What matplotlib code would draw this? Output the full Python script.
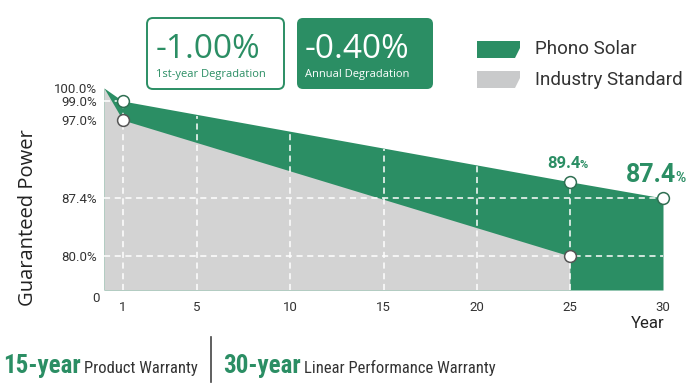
import numpy as np
import matplotlib
matplotlib.use('Agg')
import matplotlib.pyplot as plt
from matplotlib import font_manager
from matplotlib.patches import FancyBboxPatch, Polygon
from matplotlib.transforms import IdentityTransform

# ---------------- data ----------------
phono_years = [0, 1, 25, 30]
phono_power = [100.0, 99.0, 89.4, 87.4]
industry_years = [0, 1, 25]
industry_power = [100.0, 97.0, 80.0]
phono_marker_years = [1, 25, 30]
phono_marker_power = [99.0, 89.4, 87.4]
industry_marker_years = [1, 25]
industry_marker_power = [97.0, 80.0]
x_ticks = [1, 5, 10, 15, 20, 25, 30]
y_ticks = [80.0, 87.4, 97.0, 99.0, 100.0]
y_ticklabels = ['80.0%', '87.4%', '97.0%', '99.0%', '100.0%']
h_grid_levels = [99.0, 87.4, 80.0]
first_year_text = '-1.00%'
annual_text = '-0.40%'

# ---------------- style ----------------
GREEN = '#2b8e64'
GRAY = '#d3d3d3'
LEG_GRAY = '#c9cacb'
DARK = '#333333'
Y_MIN = 76.0

names = {f.name for f in font_manager.fontManager.ttflist}
COND = next((n for n in ['Roboto Condensed', 'Liberation Sans Narrow',
                         'Open Sans Condensed', 'DejaVu Sans Condensed']
             if n in names), 'Roboto')
DIN = 'Roboto'
SEGOE = 'Open Sans'

# piecewise-linear value axis (designer's uneven spacing)
SV = np.array([Y_MIN, 80.0, 87.4, 97.0, 99.0, 100.0])
SP = np.array([0.0, 34.0, 92.0, 170.0, 189.0, 202.0])


def _interp_ext(v, xs, ys):
    v = np.asarray(v, dtype=float)
    out = np.interp(v, xs, ys)
    s0 = (ys[1] - ys[0]) / (xs[1] - xs[0])
    s1 = (ys[-1] - ys[-2]) / (xs[-1] - xs[-2])
    out = np.where(v < xs[0], ys[0] + (v - xs[0]) * s0, out)
    out = np.where(v > xs[-1], ys[-1] + (v - xs[-1]) * s1, out)
    return out


def fwd(v):
    return _interp_ext(v, SV, SP)


def inv(p):
    return _interp_ext(p, SP, SV)


W, H = 697, 390
fig = plt.figure(figsize=(W / 100, H / 100), dpi=100)
fig.patch.set_facecolor('white')

ax = fig.add_axes([104 / W, 100 / H, (663 - 104) / W, 202 / H])
ax.set_yscale('function', functions=(fwd, inv))
ax.set_xlim(0, 30)
ax.set_ylim(Y_MIN, 100)

ax.fill_between(phono_years, phono_power, Y_MIN, color=GREEN, lw=0, zorder=1)
ax.fill_between(industry_years, industry_power, Y_MIN, color=GRAY, lw=0, zorder=2)

gkw = dict(color='white', lw=1.1, linestyles=(0, (4, 3)), zorder=3)
for x in x_ticks[:-1]:
    top = np.interp(x, phono_years, phono_power)
    ax.vlines(x, Y_MIN, top, **gkw)
ax.hlines(h_grid_levels[0], 0, 1, **gkw)
for lv in h_grid_levels[1:]:
    ax.hlines(lv, 0, 30, **gkw)

ax.plot(phono_marker_years, phono_marker_power, 'o', ms=8.5, mfc='white',
        mec='#2f6f52', mew=1.1, zorder=6, clip_on=False)
ax.plot(industry_marker_years, industry_marker_power, 'o', ms=8.5, mfc='white',
        mec='#555555', mew=1.1, zorder=6, clip_on=False)

ax.set_xticks(x_ticks)
ax.set_xticklabels([str(t) for t in x_ticks], fontfamily=DIN)
ax.set_yticks(y_ticks)
ax.set_yticklabels(y_ticklabels, fontfamily=DIN)
ax.yaxis.set_minor_locator(matplotlib.ticker.NullLocator())
ax.tick_params(axis='both', length=0, labelsize=9.5, colors=DARK)
ax.tick_params(axis='x', pad=8)
ax.tick_params(axis='y', pad=5)
for s in ax.spines.values():
    s.set_visible(False)

ax.annotate('0', xy=(0, Y_MIN), xycoords=('axes fraction', 'data'),
            xytext=(-3, -6), textcoords='offset points', ha='right', va='center',
            fontsize=9.5, color=DARK, fontfamily=DIN)

# labels
fig.text(28 / W, 1 - 218 / H, 'Guaranteed Power', rotation=90, ha='center',
         va='center', fontsize=14.5, color='#222222', fontfamily=SEGOE)
fig.text(648 / W, 1 - 323 / H, 'Year', ha='center', va='center', fontsize=12,
         color='#222222', fontfamily=DIN)

# ---------- boxes ----------
ID = IdentityTransform()
b1 = FancyBboxPatch((147, H - 89), 137, 71, boxstyle='round,pad=0,rounding_size=6',
                    transform=ID, facecolor='white', edgecolor=GREEN, lw=1.4)
b2 = FancyBboxPatch((297, H - 89), 136, 71, boxstyle='round,pad=0,rounding_size=6',
                    transform=ID, facecolor=GREEN, edgecolor='none', lw=0)
fig.add_artist(b1)
fig.add_artist(b2)
fig.text(156 / W, (H - 58) / H, first_year_text, ha='left', va='baseline',
         fontsize=24, color=GREEN, fontfamily=SEGOE)
fig.text(156 / W, (H - 77) / H, '1st-year Degradation', ha='left', va='baseline',
         fontsize=8, color=GREEN, fontfamily=SEGOE)
fig.text(305 / W, (H - 58) / H, annual_text, ha='left', va='baseline',
         fontsize=24, color='white', fontfamily=SEGOE)
fig.text(305 / W, (H - 77) / H, 'Annual Degradation', ha='left', va='baseline',
         fontsize=8, color='white', fontfamily=SEGOE)

# ---------- legend ----------
def leg_patch(ytop, color):
    pts = [(477, ytop), (520, ytop), (520, ytop + 7), (515, ytop + 17), (477, ytop + 17)]
    return Polygon([(x, H - y) for x, y in pts], closed=True, transform=ID,
                   facecolor=color, edgecolor='none')

fig.add_artist(leg_patch(41, GREEN))
fig.add_artist(leg_patch(71, LEG_GRAY))
fig.text(535 / W, 1 - 49 / H, 'Phono Solar', ha='left', va='center', fontsize=13.5,
         color=DARK, fontfamily=DIN)
fig.text(535 / W, 1 - 80 / H, 'Industry Standard', ha='left', va='center',
         fontsize=13.5, color=DARK, fontfamily=DIN)

# ---------- value callouts ----------
fig.canvas.draw()
renderer = fig.canvas.get_renderer()

callouts = []
for idx, size, pct_size, dx, dy in [(1, 12, 8, 11, 14), (2, 18, 10, 13, 16)]:
    x = phono_marker_years[idx]
    y = phono_marker_power[idx]
    t = ax.annotate(f'{y:.1f}', xy=(x, y), xytext=(dx * 0.72, dy * 0.72),
                    textcoords='offset points', ha='right', va='baseline',
                    fontsize=size, fontweight='bold', color=GREEN,
                    fontfamily=DIN, annotation_clip=False)
    callouts.append((t, idx, pct_size, dy))

fig.canvas.draw()
for t, idx, ps, dy in callouts:
    bb = t.get_window_extent(renderer)
    px, py = ax.transData.transform((phono_marker_years[idx], phono_marker_power[idx]))
    fig.text((bb.x1 - 1) / W, (py + dy) / H, '%', ha='left', va='baseline',
             fontsize=ps, fontweight='bold', color=GREEN, fontfamily=DIN)

# ---------- bottom warranty line ----------
BASE = H - 373
t1 = fig.text(3 / W, BASE / H, '15-year', ha='left', va='baseline', fontsize=18,
              fontweight='bold', color=GREEN, fontfamily=COND)
fig.canvas.draw()
bb1 = t1.get_window_extent(renderer)
fig.text((bb1.x1 + 3) / W, BASE / H, 'Product Warranty', ha='left', va='baseline',
         fontsize=12, color=DARK, fontfamily=COND)
fig.add_artist(plt.Line2D([211 / W, 211 / W], [1 - 382 / H, 1 - 337 / H],
                          transform=fig.transFigure, color='#444444', lw=1.2))
t3 = fig.text(223 / W, BASE / H, '30-year', ha='left', va='baseline', fontsize=18,
              fontweight='bold', color=GREEN, fontfamily=COND)
fig.canvas.draw()
bb3 = t3.get_window_extent(renderer)
fig.text((bb3.x1 + 3) / W, BASE / H, 'Linear Performance Warranty', ha='left',
         va='baseline', fontsize=12, color=DARK, fontfamily=COND)

fig.savefig('out.png', dpi=100, facecolor='white')
